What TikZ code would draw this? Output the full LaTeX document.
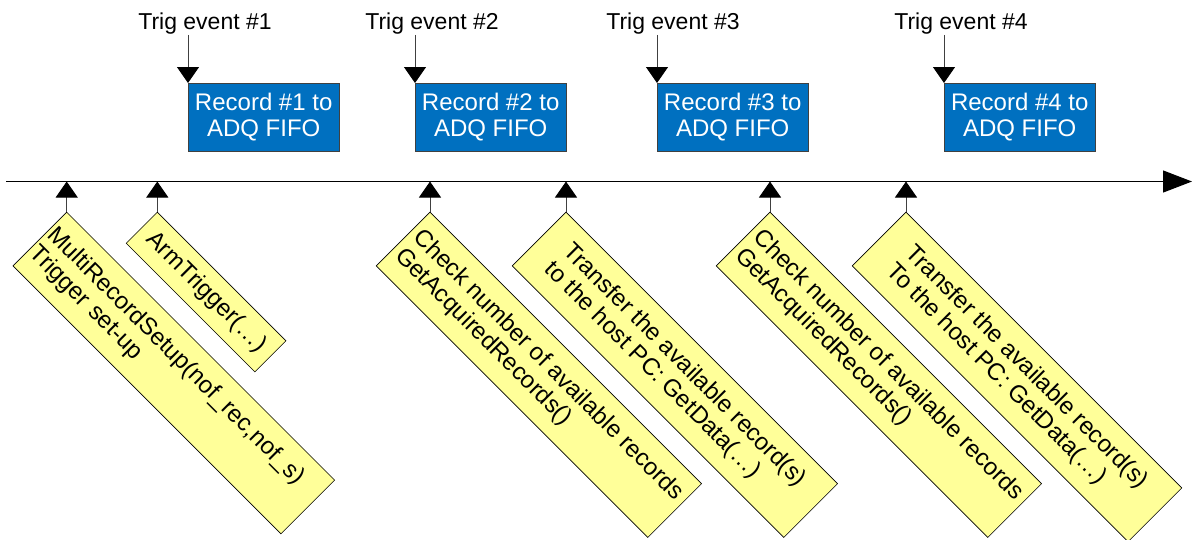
\documentclass[tikz,border=0pt]{standalone}
\usepackage{fontspec}
\setmainfont{Liberation Sans}
\usetikzlibrary{arrows.meta}
\definecolor{boxblue}{RGB}{0,112,192}
\definecolor{noteyellow}{RGB}{255,255,153}
\begin{document}
\begin{tikzpicture}[x=1pt,y=-1pt,
  recbox/.style={draw=black!75,fill=boxblue,text=white,minimum width=151pt,minimum height=68pt,inner sep=0pt,anchor=north west,align=center,font=\fontsize{24}{26}\selectfont},
  trig/.style={anchor=base,inner sep=1pt,font=\fontsize{23}{26}\selectfont},
  note/.style={draw=black,line width=0.6pt,fill=noteyellow,rotate=-45,anchor=north west,inner ysep=0pt,minimum height=76pt,align=left,font=\fontsize{24}{26}\selectfont},
  marker/.style={draw=black!75,line width=1pt,-{Triangle[length=16pt,width=22pt,color=black]}},
  timeline/.style={draw=black,line width=1.2pt,-{Triangle[length=29pt,width=22pt]}}]
\useasboundingbox (0,0) rectangle (1192,539);

% timeline
\coordinate (ts) at (6,181.5);
\coordinate (te) at (1192,181.5);
\draw[timeline] (ts) -- (te);

% trigger events and records
\node[recbox] (b1) at (188,83) {Record \#1 to\\ADQ FIFO};
\node[recbox] (b2) at (415,83) {Record \#2 to\\ADQ FIFO};
\node[recbox] (b3) at (657,83) {Record \#3 to\\ADQ FIFO};
\node[recbox] (b4) at (944,83) {Record \#4 to\\ADQ FIFO};

\node[trig] (t1) at (205,29) {Trig event \#1};
\node[trig] (t2) at (432,29) {Trig event \#2};
\node[trig] (t3) at (673,29) {Trig event \#3};
\node[trig] (t4) at (961,29) {Trig event \#4};

\draw[marker] (t1.south -| b1.north west) -- (b1.north west);
\draw[marker] (t2.south -| b2.north west) -- (b2.north west);
\draw[marker] (t3.south -| b3.north west) -- (b3.north west);
\draw[marker] (t4.south -| b4.north west) -- (b4.north west);

% host calls
\node[note,inner xsep=3pt,text width=373pt,minimum width=379pt] (y1) at (66.7,211.7)
  {MultiRecordSetup(nof\_rec,nof\_s)\\Trigger set-up};
\node[note,inner xsep=0pt,minimum width=182pt,minimum height=44pt] (y2) at (157.3,211.7)
  {ArmTrigger(…)};
\node[note,inner xsep=0pt,minimum width=384pt] (y3) at (430,211.7)
  {Check number of available records\\GetAcquiredRecords()};
\node[note,inner xsep=0pt,minimum width=384pt] (y4) at (566,211.7)
  {Transfer the available record(s)\\to the host PC: GetData(…)};
\node[note,inner xsep=0pt,minimum width=384pt] (y5) at (770,211.7)
  {Check number of available records\\GetAcquiredRecords()};
\node[note,inner xsep=0pt,minimum width=390pt] (y6) at (906,211.7)
  {Transfer the available record(s)\\To the host PC: GetData(…)};

\foreach \n in {y1,y2,y3,y4,y5,y6}
  \draw[marker] (\n.north west) -- (\n.north west |- ts);
\end{tikzpicture}
\end{document}
